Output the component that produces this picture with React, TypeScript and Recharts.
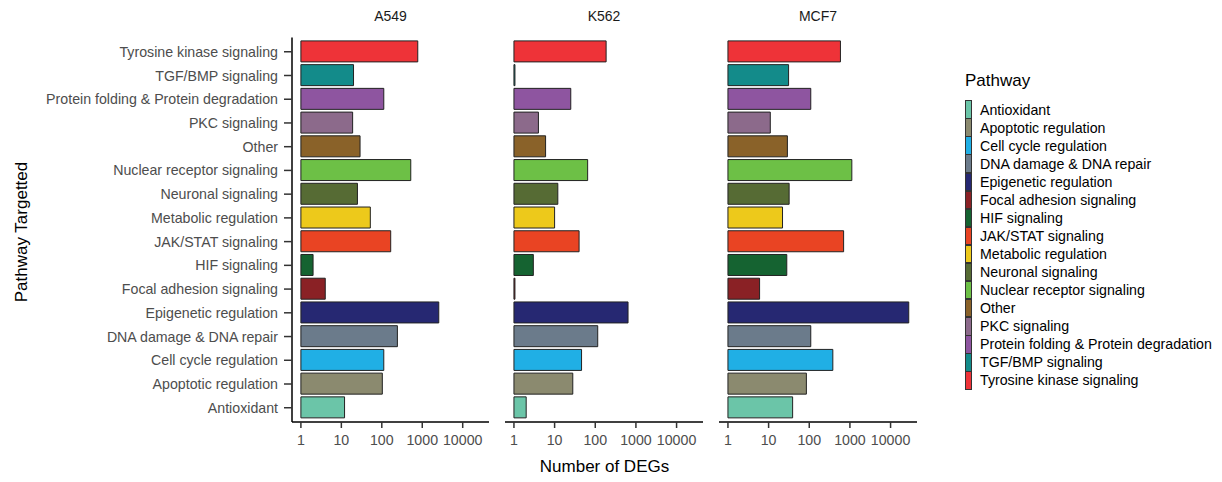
import { BarChart, Bar, XAxis, YAxis, Cell } from "recharts";

const FONT = '"Liberation Sans", Arial, Helvetica, sans-serif';

// alphabetical = legend order; drawn bottom -> top on the y axis
const PATHWAYS = [
  "Antioxidant",
  "Apoptotic regulation",
  "Cell cycle regulation",
  "DNA damage & DNA repair",
  "Epigenetic regulation",
  "Focal adhesion signaling",
  "HIF signaling",
  "JAK/STAT signaling",
  "Metabolic regulation",
  "Neuronal signaling",
  "Nuclear receptor signaling",
  "Other",
  "PKC signaling",
  "Protein folding & Protein degradation",
  "TGF/BMP signaling",
  "Tyrosine kinase signaling",
];

const COLORS = [
  "#6BC5A8", "#8B8A6F", "#20AFE5", "#6B7B8B", "#262872", "#8A2125", "#156331", "#E94423",
  "#EDC91B", "#566B34", "#6DC046", "#8A6229", "#8C6A8B", "#8E55A0", "#138B8A", "#EE3338",
];

const CELL_LINES = ["A549", "K562", "MCF7"];

// number of DEGs, same order as PATHWAYS
const A549 = [12, 103, 112, 243, 2560, 4, 2, 166, 52, 25, 520, 29, 19, 112, 20, 775];
const K562 = [2, 28, 46, 115, 640, 1, 3, 40, 10, 12, 65, 6, 4, 25, 1, 185];
const MCF7 = [39, 85, 380, 109, 28000, 6, 28, 700, 22, 32, 1115, 29, 11, 109, 31, 585];

const X_TICKS = [1, 10, 100, 1000, 10000];

const SERIES = [A549, K562, MCF7];

function rows(vals: number[]) {
  return PATHWAYS.map((p, i) => ({ pathway: p, value: Math.log10(vals[i]) }));
}

const TOP = 37.5;
const PLOT_H = 384.5;
const H = 482;
const TICK_FS = 14.2;

function Panel({ idx, left, width, showY }: { idx: number; left: number; width: number; showY: boolean }) {
  const data = rows(SERIES[idx]);
  return (
    <div style={{ position: "absolute", left, top: 0 }}>
      <BarChart
        width={width}
        height={H}
        data={data}
        layout="vertical"
        margin={{ top: TOP, right: 0, bottom: H - TOP - PLOT_H - 30, left: 0 }}
        barSize={21}
      >
        <XAxis
          type="number"
          domain={[-0.22, 4.65]}
          allowDataOverflow
          ticks={X_TICKS.map((t) => Math.log10(t))}
          tickFormatter={(v: number) => String(Math.round(Math.pow(10, v)))}
          interval={0}
          height={30}
          tickSize={6}
          tickMargin={7}
          axisLine={{ stroke: "#000", strokeWidth: 1.5 }}
          tickLine={{ stroke: "#333", strokeWidth: 1.5 }}
          tick={{ fontSize: TICK_FS, fill: "#4d4d4d", fontFamily: FONT }}
        />
        <YAxis
          type="category"
          dataKey="pathway"
          reversed
          hide={!showY}
          width={showY ? 292 : 0}
          interval={0}
          padding={{ top: 2.4, bottom: 2.4 }}
          tickSize={8}
          tickMargin={6}
          axisLine={{ stroke: "#000", strokeWidth: 1.5 }}
          tickLine={{ stroke: "#333", strokeWidth: 1.5 }}
          tick={{ fontSize: TICK_FS, fill: "#4d4d4d", fontFamily: FONT }}
        />
        <Bar dataKey="value" stroke="#222" strokeWidth={1} minPointSize={1} isAnimationActive={false}>
          {data.map((d, i) => (
            <Cell key={d.pathway} fill={COLORS[i]} />
          ))}
        </Bar>
      </BarChart>
    </div>
  );
}

export default function App() {
  const panels = [
    { left: 0, width: 489, showY: true },
    { left: 505, width: 198, showY: false },
    { left: 719, width: 198, showY: false },
  ];
  const plotLeft = [292, 505, 719];
  const plotW = [197, 198, 198];
  return (
    <div style={{ position: "absolute", left: 0, top: 0, width: 1222, height: H, background: "#fff", fontFamily: FONT, color: "#000" }}>
      {panels.map((p, i) => (
        <Panel key={i} idx={i} left={p.left} width={p.width} showY={p.showY} />
      ))}
      {CELL_LINES.map((c, i) => (
        <div
          key={c}
          style={{ position: "absolute", left: plotLeft[i], width: plotW[i], top: 7.5, textAlign: "center", fontSize: 14, color: "#1a1a1a" }}
        >
          {c}
        </div>
      ))}
      <div style={{ position: "absolute", left: 292, width: 625, top: 457, textAlign: "center", fontSize: 17 }}>
        Number of DEGs
      </div>
      <div
        style={{
          position: "absolute",
          left: 22,
          top: 232,
          transform: "translate(-50%, -50%) rotate(-90deg)",
          whiteSpace: "nowrap",
          fontSize: 17,
        }}
      >
        Pathway Targetted
      </div>
      <div style={{ position: "absolute", left: 965, top: 71, fontSize: 17 }}>Pathway</div>
      <div style={{ position: "absolute", left: 965, top: 100.5 }}>
        {PATHWAYS.map((p, i) => (
          <div key={p} style={{ display: "flex", alignItems: "center", height: 18.07, position: "relative" }}>
            <div
              style={{
                width: 5,
                height: 16.5,
                background: COLORS[i],
                border: "0.75px solid #333",
                marginRight: 8,
              }}
            />
            <span style={{ fontSize: TICK_FS, whiteSpace: "nowrap", color: "#000" }}>{p}</span>
          </div>
        ))}
      </div>
    </div>
  );
}
